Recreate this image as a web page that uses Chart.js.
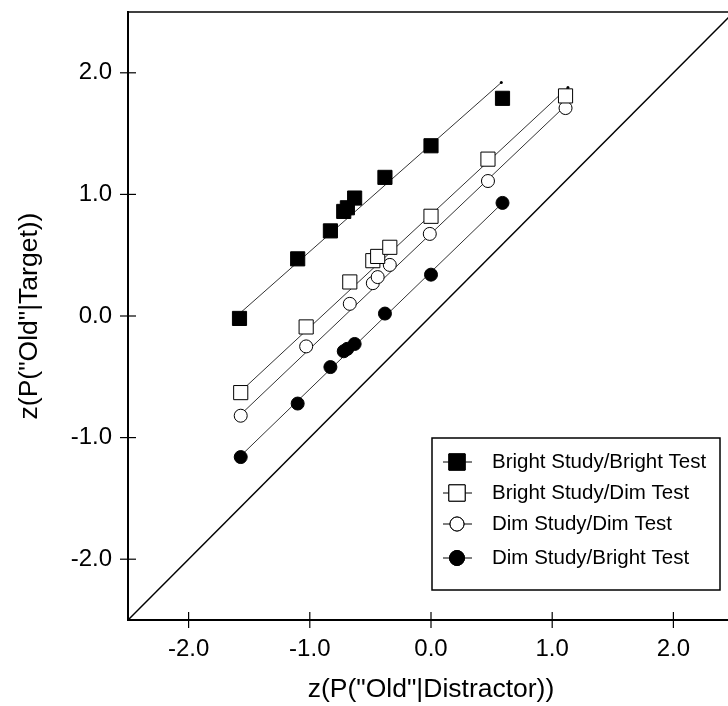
<!DOCTYPE html>
<html><head><meta charset="utf-8">
<script src="https://cdn.jsdelivr.net/npm/chart.js@4/dist/chart.umd.min.js"></script>
<style>
html,body{margin:0;padding:0;background:#fff;overflow:hidden;width:728px;height:706px}
#wrap{width:745px;height:706px;position:relative}
canvas{display:block}
</style></head>
<body><div id="wrap"><canvas id="c" width="745" height="706"></canvas></div>
<script>
const categories = ['Bright Study/Bright Test','Bright Study/Dim Test','Dim Study/Dim Test','Dim Study/Bright Test'];
const bbX = [-1.58,-1.10,-0.83,-0.72,-0.69,-0.63,-0.38,0.00,0.59];
const bbY = [-0.02,0.47,0.70,0.86,0.89,0.97,1.14,1.40,1.79];
const bdX = [-1.57,-1.03,-0.67,-0.48,-0.44,-0.34,0.00,0.47,1.11];
const bdY = [-0.63,-0.09,0.28,0.455,0.49,0.565,0.82,1.29,1.81];
const ddX = [-1.57,-1.03,-0.67,-0.48,-0.44,-0.34,-0.01,0.47,1.11];
const ddY = [-0.82,-0.25,0.10,0.27,0.32,0.42,0.675,1.11,1.71];
const dbX = [-1.57,-1.10,-0.83,-0.72,-0.69,-0.63,-0.38,0.00,0.59];
const dbY = [-1.16,-0.72,-0.42,-0.29,-0.27,-0.23,0.02,0.34,0.93];
const fitBBx = [-1.58,0.58], fitBBy = [0.02,1.92];
const fitBDx = [-1.57,1.13], fitBDy = [-0.62,1.88];
const fitDDx = [-1.57,1.11], fitDDy = [-0.81,1.73];
const fitDBx = [-1.57,0.59], fitDBy = [-1.15,0.93];
const diagX = [-2.5,2.5], diagY = [-2.5,2.5];
const tickValues = [-2,-1,0,1,2];
const tickLabels = ['-2.0','-1.0','0.0','1.0','2.0'];
const xTitle = 'z(P("Old"|Distractor))';
const yTitle = 'z(P("Old"|Target))';

const pts = (xs, ys) => xs.map((v,i)=>({x:v, y:ys[i]}));
const FONT = '"Liberation Sans", Arial, Helvetica, sans-serif';

const styles = [
  {pointStyle:'rect', bg:'#000', r:10, lr:11.5},
  {pointStyle:'rect', bg:'#fff', r:10, lr:11.5},
  {pointStyle:'circle', bg:'#fff', r:6.5, lr:7},
  {pointStyle:'circle', bg:'#000', r:6.5, lr:7.5}
];
const series = [pts(bbX,bbY), pts(bdX,bdY), pts(ddX,ddY), pts(dbX,dbY)];
const fits = [pts(fitBBx,fitBBy), pts(fitBDx,fitBDy), pts(fitDDx,fitDDy), pts(fitDBx,fitDBy)];

const datasets = [];
series.forEach((d,i)=>{
  datasets.push({type:'scatter', label:categories[i], data:d, showLine:false,
    pointStyle:styles[i].pointStyle, pointRadius:styles[i].r, pointBackgroundColor:styles[i].bg,
    pointBorderColor:'#000', pointBorderWidth:1, order:1});
});
fits.forEach((d,i)=>{
  datasets.push({type:'line', label:'fit'+i, data:d, showLine:true, borderColor:'#333', borderWidth:1,
    pointRadius:1.5, pointBackgroundColor:'#000', pointBorderWidth:0, order:2, fill:false});
});
datasets.push({type:'line', label:'diag', data:pts(diagX,diagY), borderColor:'#000', borderWidth:1.5, pointRadius:0, order:3, fill:false});

const frame = {
  id:'frame',
  afterDraw(chart){
    const {ctx, chartArea:a, scales:{x,y}} = chart;
    ctx.save();
    ctx.strokeStyle='#000';
    ctx.lineWidth=1.5;
    ctx.beginPath(); ctx.moveTo(a.left-1, a.top); ctx.lineTo(a.right, a.top); ctx.stroke();
    ctx.lineWidth=1.2;
    tickValues.forEach(v=>{
      const px=x.getPixelForValue(v);
      ctx.beginPath(); ctx.moveTo(px,a.bottom+8); ctx.lineTo(px,a.bottom-8); ctx.stroke();
      const py=y.getPixelForValue(v);
      ctx.beginPath(); ctx.moveTo(a.left-8,py); ctx.lineTo(a.left+8,py); ctx.stroke();
    });
    // legend box
    const L=432, T=438, R=720, B=590;
    ctx.fillStyle='#fff'; ctx.fillRect(L,T,R-L,B-T);
    ctx.lineWidth=1.5; ctx.strokeRect(L,T,R-L,B-T);
    const rows=[462,493,524,558];
    categories.forEach((c,i)=>{
      const yy=rows[i];
      ctx.lineWidth=1; ctx.strokeStyle='#000';
      ctx.beginPath(); ctx.moveTo(443,yy); ctx.lineTo(472,yy); ctx.stroke();
      Chart.helpers.drawPoint(ctx,{pointStyle:styles[i].pointStyle, radius: styles[i].lr, borderWidth:1, rotation:0}, 457, yy);
      ctx.fillStyle=styles[i].bg; ctx.fill(); ctx.stroke();
      ctx.fillStyle='#000'; ctx.font='20.5px '+FONT; ctx.textBaseline='middle'; ctx.textAlign='left';
      ctx.fillText(c, 492, yy);
    });
    ctx.restore();
  }
};

const axisCommon = (title, pad) => ({
  type:'linear', min:-2.5, max:2.5,
  afterBuildTicks: s => { s.ticks = tickValues.map(v=>({value:v})); },
  ticks:{ callback: v => tickLabels[tickValues.indexOf(v)], color:'#000', font:{family:FONT, size:24}, padding:pad, autoSkip:false, maxRotation:0 },
  grid:{ display:true, drawOnChartArea:false, drawTicks:false },
  border:{ display:true, color:'#000', width:2 },
  title:{ display:true, text:title, color:'#000', font:{family:FONT, size:26.5} }
});

const xAxis = axisCommon(xTitle, 15);
xAxis.title.padding = {top:0, bottom:0};
xAxis.afterFit = s => { s.height = 86; s.paddingLeft = 0; s.paddingRight = 0; };
const yAxis = axisCommon(yTitle, 16);
yAxis.title.padding = {top:14, bottom:0};
yAxis.afterFit = s => { s.width = 128; s.paddingTop = 0; s.paddingBottom = 0; };

new Chart(document.getElementById('c'), {
  data:{ datasets },
  options:{
    responsive:false, animation:false, devicePixelRatio:1,
    layout:{ padding:{ left:0, top:12, right:9, bottom:0 } },
    plugins:{ legend:{display:false}, tooltip:{enabled:false} },
    scales:{ x:xAxis, y:yAxis }
  },
  plugins:[frame]
});
</script></body></html>
